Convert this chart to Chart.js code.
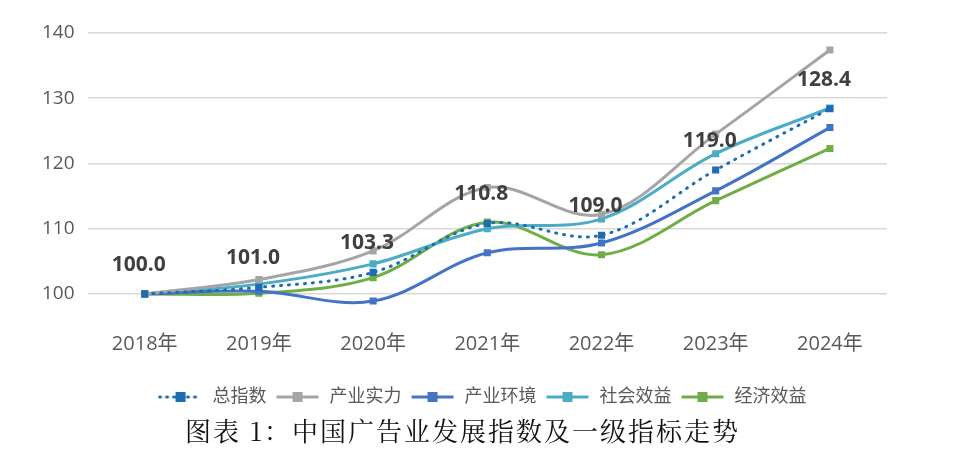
<!DOCTYPE html>
<html>
<head>
<meta charset="utf-8">
<script src="https://cdn.jsdelivr.net/npm/chart.js@4.4.1/dist/chart.umd.min.js"></script>
<style>
  html, body { margin: 0; padding: 0; background: #ffffff; }
  #wrap { position: relative; width: 959px; height: 471px; overflow: hidden; }
  #chart-box { position: absolute; left: 0; top: 0; width: 959px; height: 416px; }
  #caption {
    position: absolute; left: 185px; top: 411px;
    font-family: "Noto Serif CJK SC", "Noto Sans CJK SC", serif;
    font-size: 26px; color: #111111; letter-spacing: 2px; white-space: nowrap;
  }
</style>
</head>
<body>
<div id="wrap">
  <div id="chart-box"><canvas id="myChart"></canvas></div>
  <div id="caption">图表 1：中国广告业发展指数及一级指标走势</div>
</div>
<script>
'use strict';

// chart data

let years = ['2018年', '2019年', '2020年', '2021年', '2022年', '2023年', '2024年'];
let totalIndex = [100.0, 101.0, 103.3, 110.8, 109.0, 119.0, 128.4];
let industryStrength = [100.0, 102.2, 106.6, 116.3, 112.2, 124.5, 137.4];
let industryEnv = [100.0, 100.4, 98.9, 106.3, 107.8, 115.8, 125.5];
let socialBenefit = [100.0, 101.5, 104.6, 110.0, 111.5, 121.5, 128.5];
let economicBenefit = [100.0, 100.1, 102.5, 111.0, 106.0, 114.3, 122.3];
let yTicks = [100, 110, 120, 130, 140];

let seriesNames = ['总指数', '产业实力', '产业环境', '社会效益', '经济效益'];
let seriesColors = ['#1C6DB3', '#A5A5A5', '#4472C4', '#4BACC6', '#70AD47'];

let baseFont = '"Open Sans", "Noto Sans CJK SC", sans-serif';

// legend icons: little line with a square in the middle
function makeLegendIcon(color, dotted) {
  let icon = document.createElement('canvas');
  icon.width = 46;
  icon.height = 12;
  let c = icon.getContext('2d');
  c.strokeStyle = color;
  c.lineWidth = 3;
  if (dotted) {
    c.setLineDash([1, 6]);
    c.lineCap = 'round';
  }
  c.beginPath();
  c.moveTo(2, 6);
  c.lineTo(44, 6);
  c.stroke();
  c.fillStyle = color;
  c.fillRect(18, 1, 10, 10);
  return icon;
}

let legendIcons = seriesColors.map((col, i) => makeLegendIcon(col, i === 0));

// value labels for the total index only
let totalLabelsPlugin = {
  id: 'totalLabels',
  afterLayout(chart) {
    // legend sits centred on the whole picture, not on the padded box
    chart.legend.left += 24;
    chart.legend.right += 24;
  },
  afterDatasetsDraw(chart) {
    let meta = chart.getDatasetMeta(0);
    let ctx = chart.ctx;
    ctx.save();
    ctx.font = 'bold 21px ' + baseFont;
    ctx.fillStyle = '#404040';
    ctx.textAlign = 'center';
    ctx.textBaseline = 'middle';
    meta.data.forEach((pt, i) => {
      ctx.fillText(totalIndex[i].toFixed(1), pt.x - 6, pt.y - 29);
    });
    ctx.restore();
  }
};

function buildDataset(label, data, color, dotted) {
  return {
    label: label,
    data: data,
    borderColor: color,
    backgroundColor: color,
    borderWidth: 3,
    borderDash: dotted ? [1, 7] : [],
    borderCapStyle: dotted ? 'round' : 'butt',
    pointStyle: 'rect',
    pointRadius: 5,
    pointHoverRadius: 5,
    pointBorderWidth: 0,
    tension: 0.35,
    fill: false
  };
}

const ctx = document.getElementById('myChart').getContext('2d');

let myChart = new Chart(ctx, {
  type: 'line',
  data: {
    labels: years,
    datasets: [
      buildDataset(seriesNames[0], totalIndex, seriesColors[0], true),
      buildDataset(seriesNames[1], industryStrength, seriesColors[1], false),
      buildDataset(seriesNames[2], industryEnv, seriesColors[2], false),
      buildDataset(seriesNames[3], socialBenefit, seriesColors[3], false),
      buildDataset(seriesNames[4], economicBenefit, seriesColors[4], false)
    ]
  },
  options: {
    responsive: true,
    maintainAspectRatio: false,
    animation: false,
    layout: { padding: { left: 29, right: 72, top: 33, bottom: 0 } },
    scales: {
      x: {
        offset: true,
        grid: { display: false },
        border: { display: false },
        afterFit(scale) {
          scale.height += 20;
        },
        ticks: { color: '#595959', font: { family: baseFont, size: 20 }, padding: 4 }
      },
      y: {
        min: 96,
        max: 140,
        afterBuildTicks(axis) {
          axis.ticks = yTicks.map(v => ({ value: v }));
        },
        grid: { color: '#D9D9D9', lineWidth: 1.5, drawTicks: false },
        border: { display: false },
        ticks: { color: '#595959', font: { family: baseFont, size: 19 }, padding: 13 }
      }
    },
    plugins: {
      legend: {
        position: 'bottom',
        labels: {
          usePointStyle: true,
          pointStyleWidth: 46,
          boxHeight: 12,
          padding: 8,
          color: '#595959',
          font: { family: baseFont, size: 18 },
          generateLabels(chart) {
            return chart.data.datasets.map((ds, i) => ({
              text: ds.label,
              pointStyle: legendIcons[i],
              fillStyle: ds.borderColor,
              strokeStyle: ds.borderColor,
              lineWidth: 0,
              fontColor: '#595959',
              hidden: false,
              datasetIndex: i
            }));
          }
        }
      },
      tooltip: { enabled: false }
    }
  },
  plugins: [totalLabelsPlugin]
});
</script>
</body>
</html>
